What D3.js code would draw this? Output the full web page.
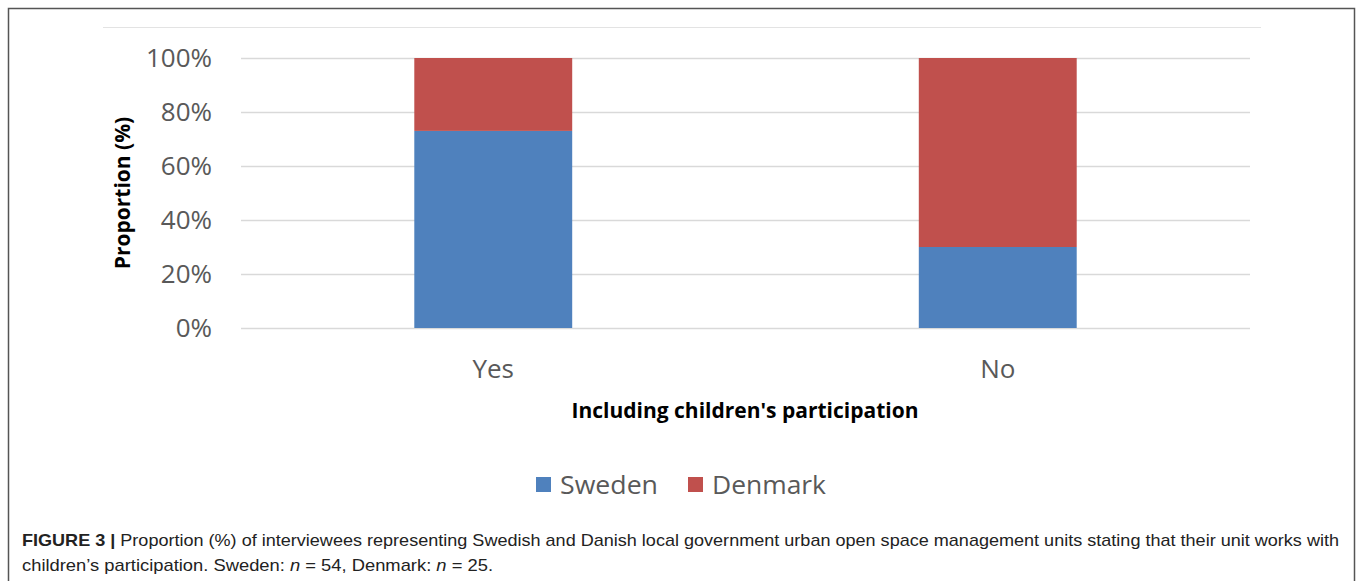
<!DOCTYPE html>
<html><head><meta charset="utf-8">
<script src="https://cdn.jsdelivr.net/npm/d3@7"></script>
<style>body{margin:0;background:#fff}</style>
</head><body>
<svg id="c" width="1357" height="581"></svg>
<script>
const categories = ["Yes", "No"];
const seriesNames = ["Sweden", "Denmark"];
const sweden = [73, 30];
const denmark = [27, 70];
const yTicks = [0, 20, 40, 60, 80, 100];
const colors = ["#4F81BD", "#C0504D"];

const svg = d3.select("#c");
svg.append("rect").attr("x",8.5).attr("y",8.5).attr("width",1346).attr("height",580)
  .attr("fill","none").attr("stroke","#555").attr("stroke-width",1.5);
svg.append("line").attr("x1",103).attr("x2",1261).attr("y1",27.5).attr("y2",27.5)
  .attr("stroke","#e3e3e3").attr("stroke-width",1);

const x = d3.scaleBand().domain(categories).range([241,1250]).paddingInner(0.687).paddingOuter(0.3435);
const y = d3.scaleLinear().domain([0,100]).range([328,58]);

const gy = svg.append("g").attr("transform","translate(241,0)")
  .call(d3.axisLeft(y).tickValues(yTicks).tickFormat(d=>d+"%").tickSize(-1009).tickPadding(29));
gy.select(".domain").remove();
gy.selectAll(".tick line").attr("stroke","#d9d9d9").attr("stroke-width",1.5);
gy.selectAll(".tick text").attr("fill","#595959").style("font-family","'Open Sans',sans-serif").style("font-size","26px");

const data = categories.map((c,i)=>({cat:c, Sweden:sweden[i], Denmark:denmark[i]}));
const stack = d3.stack().keys(seriesNames)(data);
svg.append("g").selectAll("g").data(stack).join("g").attr("fill",(d,i)=>colors[i])
  .selectAll("rect").data(d=>d).join("rect")
  .attr("x",d=>x(d.data.cat)).attr("width",x.bandwidth())
  .attr("y",d=>y(d[1])).attr("height",d=>y(d[0])-y(d[1]));

const gx = svg.append("g").attr("transform","translate(0,328)")
  .call(d3.axisBottom(x).tickSize(0).tickPadding(32));
gx.select(".domain").remove();
gx.selectAll(".tick text").attr("fill","#595959").style("font-family","'Open Sans',sans-serif").style("font-size","26px");

svg.append("text").attr("transform","translate(130,193) rotate(-90)").attr("text-anchor","middle")
  .style("font-family","'Open Sans',sans-serif").style("font-size","21px").style("font-weight","bold")
  .attr("fill","#000").text("Proportion (%)");
svg.append("text").attr("x",745).attr("y",418).attr("text-anchor","middle")
  .style("font-family","'Open Sans',sans-serif").style("font-size","21px").style("font-weight","bold")
  .attr("fill","#000").text("Including children's participation");

// legend
const legX = [536, 688];
const lg = svg.append("g");
seriesNames.forEach((s,i)=>{
  lg.append("rect").attr("x",legX[i]).attr("y",477).attr("width",15).attr("height",15).attr("fill",colors[i]);
  lg.append("text").attr("x",legX[i]+24).attr("y",494).attr("textLength",i===0?98:114).attr("lengthAdjust","spacingAndGlyphs")
    .style("font-family","'Open Sans',sans-serif").style("font-size","26px").attr("fill","#595959").text(s);
});

// caption
const cap = svg.append("g").style("font-family","'Liberation Sans Narrow','Liberation Sans',Arial,sans-serif").style("font-size","17px").attr("fill","#222");
const t1 = cap.append("text").attr("x",22).attr("y",546).attr("textLength",1317).attr("lengthAdjust","spacingAndGlyphs");
t1.append("tspan").style("font-weight","bold").text("FIGURE 3 | ");
t1.append("tspan").text("Proportion (%) of interviewees representing Swedish and Danish local government urban open space management units stating that their unit works with");
const t2 = cap.append("text").attr("x",22).attr("y",571).attr("textLength",471).attr("lengthAdjust","spacingAndGlyphs");
t2.append("tspan").text("children\u2019s participation. Sweden: ");
t2.append("tspan").style("font-style","italic").text("n");
t2.append("tspan").text(" = 54, Denmark: ");
t2.append("tspan").style("font-style","italic").text("n");
t2.append("tspan").text(" = 25.");
</script>
</body></html>
